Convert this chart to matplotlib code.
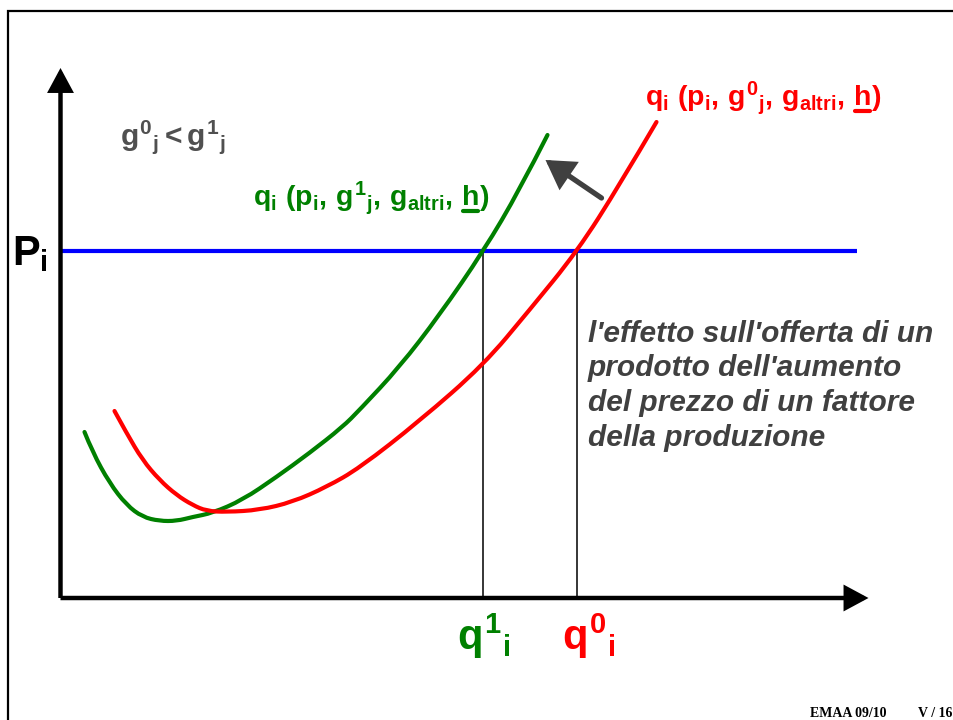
import matplotlib
matplotlib.use('Agg')
import matplotlib.pyplot as plt
from matplotlib.patches import FancyArrowPatch, Rectangle, PathPatch
from matplotlib.path import Path

plt.rcParams['font.family'] = ['Liberation Sans', 'DejaVu Sans']
plt.rcParams['mathtext.fontset'] = 'custom'
plt.rcParams['mathtext.rm'] = 'Liberation Sans:bold'
plt.rcParams['mathtext.it'] = 'Liberation Sans:bold'
plt.rcParams['mathtext.bf'] = 'Liberation Sans:bold'
plt.rcParams['mathtext.sf'] = 'Liberation Sans:bold'

# ---------------- data (quantity q, price p) ----------------
green_q = [24, 32, 49, 66, 82, 99, 116, 132, 152, 182, 216, 249, 282, 299, 339, 379, 423, 459, 487]
green_p = [166, 146, 115, 93, 81, 77, 77, 81, 85, 98, 121, 145, 171, 188, 231, 283, 347, 408, 463]

red_q = [54, 66, 82, 99, 116, 132, 146, 166, 199, 232, 266, 299, 359, 423, 469, 517, 559, 596]
red_p = [187, 165, 138, 118, 103, 93, 87, 86, 88, 96, 111, 130, 177, 233, 288, 347, 413, 476]

price_level = 347
price_line_end = 797
q1 = 423
q0 = 517
x_axis_end = 808
y_axis_end = 530

shift_arrow_from = (541, 400)
shift_arrow_to = (485, 438)

desc_lines = ["l'effetto sull'offerta di un",
              "prodotto dell'aumento",
              "del prezzo di un fattore",
              "della produzione"]

GREEN = '#008000'
RED = '#FF0000'
BLUE = '#0000FF'
GRAY = '#404040'

# ---------------- figure ----------------
fig = plt.figure(figsize=(9.54, 7.2), dpi=100)
ax = fig.add_axes([0, 0, 1, 1])
ax.set_xlim(-60.5, 893.5)
ax.set_ylim(-122, 598)
ax.axis('off')

# slide frame
fig.patches.append(Rectangle((8 / 954, -0.2), 1.5, (720 - 11) / 720 + 0.2,
                             transform=fig.transFigure, fill=False,
                             edgecolor='black', linewidth=1.6))

# price line
ax.plot([0, price_line_end], [price_level, price_level], color=BLUE, lw=3.0,
        solid_capstyle='butt', zorder=2)

# drop lines
for qv in (q1, q0):
    ax.plot([qv, qv], [0, price_level], color='black', lw=1.1, zorder=2)


def smooth_curve(qs, ps, color):
    verts = [(qs[0], ps[0])]
    codes = [Path.MOVETO]
    n = len(qs)
    for i in range(1, n - 1):
        mid = ((qs[i] + qs[i + 1]) / 2, (ps[i] + ps[i + 1]) / 2)
        if i == n - 2:
            mid = (qs[i + 1], ps[i + 1])
        verts += [(qs[i], ps[i]), mid]
        codes += [Path.CURVE3, Path.CURVE3]
    patch = PathPatch(Path(verts, codes), fill=False, edgecolor=color, lw=3.0,
                      capstyle='round', joinstyle='round', zorder=3)
    ax.add_patch(patch)


smooth_curve(green_q, green_p, GREEN)
smooth_curve(red_q, red_p, RED)

# axes with arrows
for a, b in (((0, 0), (0, y_axis_end)), ((0, 0), (x_axis_end, 0))):
    ax.add_patch(FancyArrowPatch(a, b, arrowstyle='-|>,head_length=13,head_width=7',
                                 mutation_scale=1, lw=3.2, color='black',
                                 shrinkA=0, shrinkB=0, zorder=4,
                                 capstyle='butt', joinstyle='miter'))

# shift arrow
ax.add_patch(FancyArrowPatch(shift_arrow_from, shift_arrow_to,
                             arrowstyle='-|>,head_length=15,head_width=9',
                             mutation_scale=1, lw=3.8, color=GRAY,
                             shrinkA=0, shrinkB=0, zorder=4,
                             capstyle='round', joinstyle='miter'))

# ---------------- texts ----------------
ax.text(59.5, 453, r'$g^{0}{}_{j}<g^{1}{}_{j}$', fontsize=21.5, color='#505050',
        ha='left', va='baseline')

green_lbl = r'$q_i\ (p_i,\,g^{1}{}_{j},\,g_{altri},\,h)$'
green_pre = r'$q_i\ (p_i,\,g^{1}{}_{j},\,g_{altri},\,h$'
red_lbl = r'$q_i\ (p_i,\,g^{0}{}_{j},\,g_{altri},\,h)$'
red_pre = r'$q_i\ (p_i,\,g^{0}{}_{j},\,g_{altri},\,h$'

LBL_SIZE = 20.5
g_pos = (192.5, 392)
r_pos = (584.5, 492)
ax.text(*g_pos, green_lbl, fontsize=LBL_SIZE, color=GREEN, ha='left', va='baseline')
ax.text(*r_pos, red_lbl, fontsize=LBL_SIZE, color=RED, ha='left', va='baseline')

renderer = fig.canvas.get_renderer()


def underline_last(pos, prefix, color):
    t1 = ax.text(*pos, prefix, fontsize=LBL_SIZE, ha='left', va='baseline')
    t2 = ax.text(*pos, r'$h$', fontsize=LBL_SIZE, ha='left', va='baseline')
    b1 = t1.get_window_extent(renderer)
    b2 = t2.get_window_extent(renderer)
    t1.remove()
    t2.remove()
    base_disp = ax.transData.transform(pos)
    y_disp = base_disp[1] - 5
    x_end = b1.x1
    x_start = b1.x1 - b2.width
    inv = ax.transData.inverted()
    p0 = inv.transform((x_start + 1, y_disp))
    p1 = inv.transform((x_end - 1, y_disp))
    ax.plot([p0[0], p1[0]], [p0[1], p1[1]], color=color, lw=3.0,
            solid_capstyle='round')


underline_last(g_pos, green_pre, GREEN)
underline_last(r_pos, red_pre, RED)

ax.text(-48.5, 333, r'$P_i$', fontsize=30, color='black', ha='left', va='baseline')
ax.text(396.5, -52, r'$q^{1}{}_{i}$', fontsize=30, color=GREEN, ha='left', va='baseline')
ax.text(501, -52, r'$q^{0}{}_{i}$', fontsize=30, color=RED, ha='left', va='baseline')

for k, line in enumerate(desc_lines):
    ax.text(527.5, 256 - 34.5 * k, line, fontsize=21.5, fontweight='bold',
            fontstyle='italic', color=GRAY, ha='left', va='baseline')

fig.text(810 / 954, 3 / 720, 'EMAA 09/10', fontfamily='Liberation Serif',
         fontweight='bold', fontsize=10, ha='left', va='baseline')
fig.text(918 / 954, 3 / 720, 'V / 16', fontfamily='Liberation Serif',
         fontweight='bold', fontsize=10, ha='left', va='baseline')

fig.savefig('out.png', dpi=100)
